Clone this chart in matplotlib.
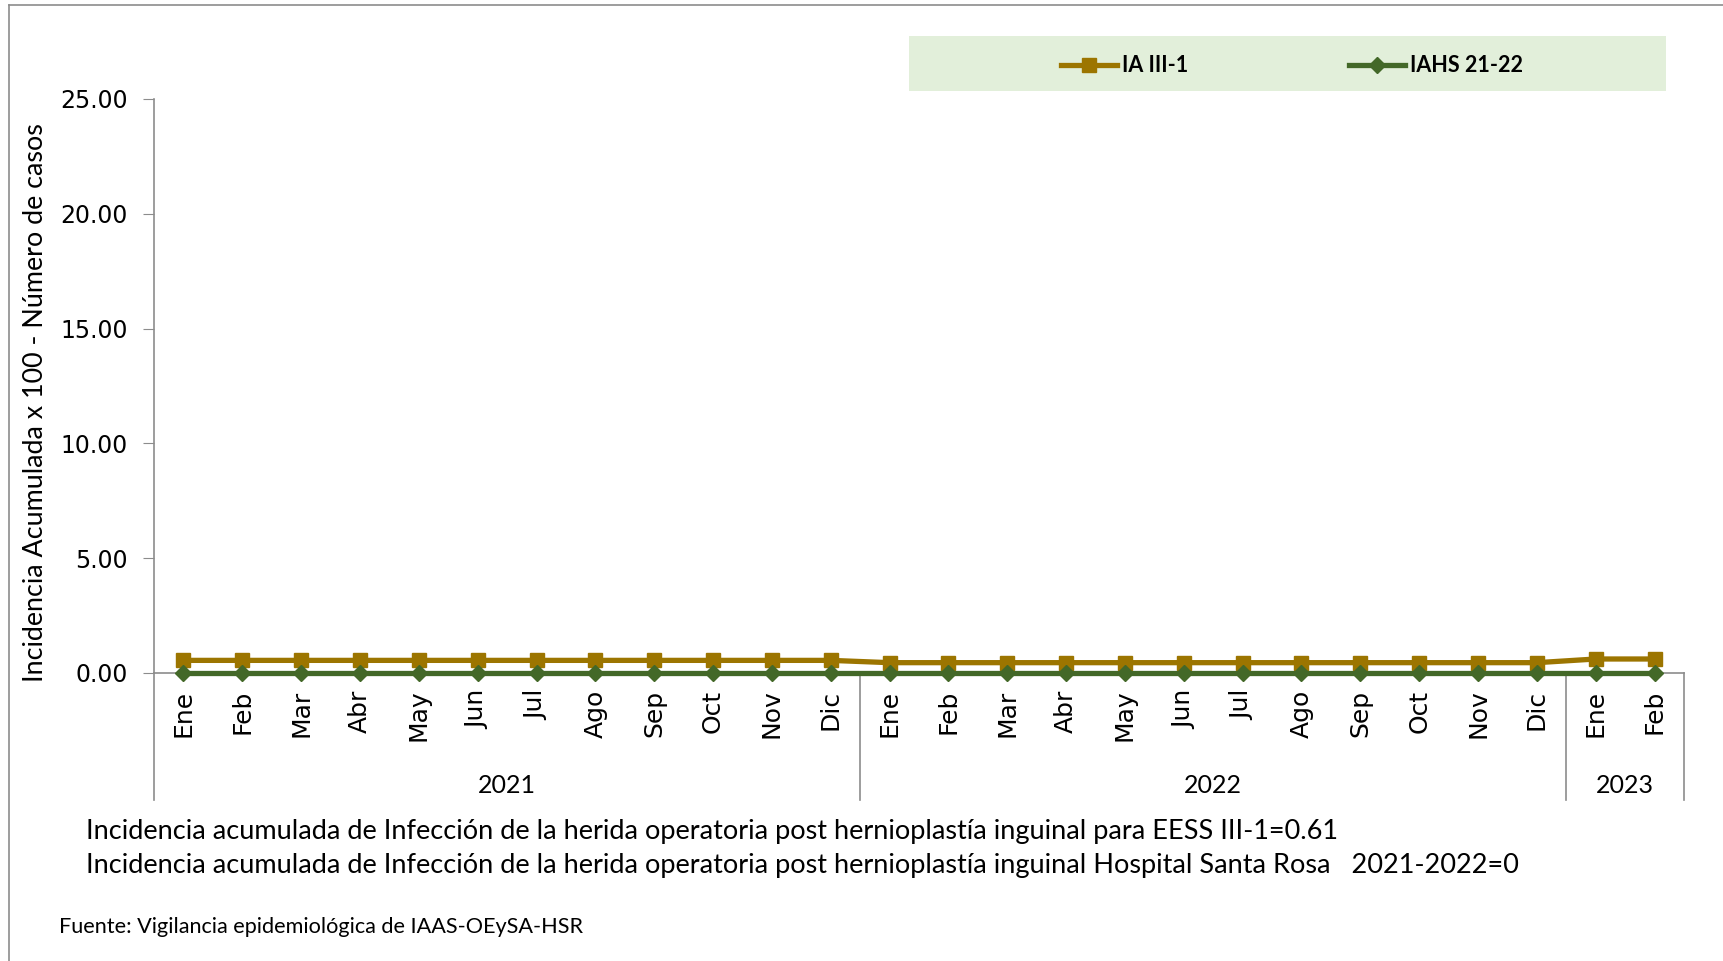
import matplotlib.pyplot as plt
from matplotlib.lines import Line2D
from matplotlib.patches import Rectangle
import matplotlib.transforms as mtransforms

# data
months = ["Ene", "Feb", "Mar", "Abr", "May", "Jun", "Jul", "Ago", "Sep", "Oct", "Nov", "Dic",
          "Ene", "Feb", "Mar", "Abr", "May", "Jun", "Jul", "Ago", "Sep", "Oct", "Nov", "Dic",
          "Ene", "Feb"]
years = ["2021", "2022", "2023"]
year_sizes = [12, 12, 2]
ia_iii1 = [0.55, 0.55, 0.55, 0.55, 0.55, 0.55, 0.55, 0.55, 0.55, 0.55, 0.55, 0.55,
           0.45, 0.45, 0.45, 0.45, 0.45, 0.45, 0.45, 0.45, 0.45, 0.45, 0.45, 0.45,
           0.61, 0.61]
iahs = [0, 0, 0, 0, 0, 0, 0, 0, 0, 0, 0, 0,
        0, 0, 0, 0, 0, 0, 0, 0, 0, 0, 0, 0,
        0, 0]

gold = "#9C7500"
green = "#436828"
grey = "#8C8C8C"
W, H = 1724, 961

fig = plt.figure(figsize=(W / 100, H / 100), dpi=100)

# outer frame (left and top only visible)
fig.add_artist(Line2D([9 / W, 9 / W], [0, 1 - 5 / H], color=grey, lw=1.2))
fig.add_artist(Line2D([9 / W, 1], [1 - 5 / H, 1 - 5 / H], color=grey, lw=1.2))
# green band behind the legend
fig.add_artist(Rectangle((909 / W, 1 - 91 / H), (1666 - 909) / W, 55 / H,
                         transform=fig.transFigure, facecolor="#E2EFDA", edgecolor="none",
                         zorder=-1))

ax = fig.add_axes([154 / W, 1 - 673 / H, (1684 - 154) / W, (673 - 99) / H])
ax.patch.set_alpha(0)
x = list(range(len(months)))
ax.plot(x, ia_iii1, color=gold, lw=3.8, marker="s", markersize=10, label="IA III-1",
        zorder=3, clip_on=False)
ax.plot(x, iahs, color=green, lw=3.8, marker="D", markersize=8, label="IAHS 21-22",
        zorder=4, clip_on=False)

ax.set_xlim(-0.5, len(months) - 0.5)
ax.set_ylim(0, 25)
ax.set_yticks([0, 5, 10, 15, 20, 25])
ax.set_yticklabels(["%.2f" % v for v in [0, 5, 10, 15, 20, 25]])
ax.set_xticks(x)
ax.set_xticklabels(months, rotation=90)
ax.tick_params(axis="x", length=0, pad=12, labelsize=18)
ax.tick_params(axis="y", length=8, color=grey, labelsize=17, pad=11)
for s in ["top", "right"]:
    ax.spines[s].set_visible(False)
for s in ["left", "bottom"]:
    ax.spines[s].set_color(grey)
    ax.spines[s].set_linewidth(1.2)

fig.text(36 / W, 1 - 403 / H, "Incidencia Acumulada x 100 - Número de casos",
         rotation=90, ha="center", va="center", fontsize=19.4, family="Lato")

# multi-level year axis
trans = mtransforms.blended_transform_factory(ax.transData, ax.transAxes)
start = -0.5
bounds = [start]
for name, n in zip(years, year_sizes):
    end = start + n
    ax.text((start + end) / 2, -0.196, name, transform=trans, ha="center", va="center",
            fontsize=18, family="Lato")
    bounds.append(end)
    start = end
for b in bounds:
    ax.add_line(Line2D([b, b], [0, -0.221], transform=trans, color=grey, lw=1.2, clip_on=False))

ax.legend(loc="center", bbox_to_anchor=(1292 / W, 1 - 66 / H), bbox_transform=fig.transFigure,
          ncol=2, frameon=False, columnspacing=7.5, handlelength=2.6, handletextpad=0.2,
          prop={"family": "Lato", "weight": "bold", "size": 15.5})

fig.text(86 / W, 1 - 831 / H,
         "Incidencia acumulada de Infección de la herida operatoria post hernioplastía inguinal para EESS III-1=0.61",
         fontsize=19.5, family="Lato", va="center")
fig.text(86 / W, 1 - 866 / H,
         "Incidencia acumulada de Infección de la herida operatoria post hernioplastía inguinal Hospital Santa Rosa   2021-2022=0",
         fontsize=19.5, family="Lato", va="center")
fig.text(59 / W, 1 - 927 / H, "Fuente: Vigilancia epidemiológica de IAAS-OEySA-HSR",
         fontsize=15.6, family="Lato", va="center")

fig.savefig("out.png", dpi=100)
